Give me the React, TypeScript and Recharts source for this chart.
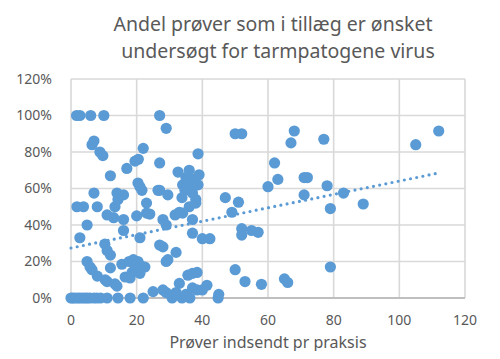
import React from "react"
import { CartesianGrid, ReferenceLine, Scatter, ScatterChart, XAxis, YAxis } from "recharts"

// Prøver indsendt pr praksis (x) og andel i % (y)
const PRAKSIS_X = [
  0, 0.5, 1.2, 2, 2.7, 3.5, 4.3, 5, 5.8, 7, 7.9, 9, 11, 14.3, 18, 22, 30.8, 33.8, 36.2, 44.8,
  25, 28, 29, 32, 35, 37, 38.4, 40, 41.4, 45, 33, 14, 11,
  4.9, 5.8, 6.4, 8, 10.4, 13.4, 12, 15.5, 17.7, 18.6, 16.5, 19, 20.4, 22.5, 21, 18, 19.5, 21, 35.6, 37, 38.4, 50, 53, 58, 65, 66, 79,
  2.7, 4.9, 10.3, 11, 12, 16, 21, 27, 28, 32, 29.5, 29, 37, 40, 42.3, 29, 52, 52, 57, 55,
  1.8, 3.8, 8, 7, 11, 13.4, 14.3, 14, 16, 13, 16, 20, 23, 23, 24, 28, 31.7, 33, 34, 37, 29.5, 26.5, 21.6, 33.8, 34.7, 37, 38, 47, 51, 49, 71, 79, 89, 83,
  35, 37, 36, 34, 38, 36,
  20.4, 21, 27, 12, 17, 19.5, 20.5, 27, 32.6, 36, 39, 35.6, 38.7, 36, 38.7, 9.7, 8.8, 60, 63, 62, 71, 72, 78,
  22, 6.4, 7, 29, 1.7, 2.7, 6, 10, 27, 50, 52, 67, 68, 77, 105, 112,
]
const ANDEL_Y = [
  0, 0, 0, 0, 0, 0, 0, 0, 0, 0, 0, 0, 0, 0, 0, 0, 0, 0, 0, 0,
  3.5, 4.4, 3, 3, 2, 5.5, 4.4, 4.4, 7, 2, 8, 6.5, 9,
  20, 17, 15.5, 12, 10, 7.7, 16.5, 18.5, 20, 14, 11.5, 21, 20, 17, 13.5, 11, 16, 18, 12.5, 13.5, 14, 15.5, 9, 7.5, 10.5, 8.5, 17,
  33, 40, 29.5, 26, 23.5, 37, 33, 29, 28, 25, 21, 20, 35.5, 32.5, 32.5, 40, 38, 34.5, 36, 37,
  50, 50, 50, 57.5, 45.5, 50, 54, 57.5, 56.5, 44, 43, 45, 52, 46.5, 46, 43, 45.5, 47, 46.5, 43, 56.5, 59, 59, 55, 59, 57.5, 54, 55, 52.5, 47, 56.5, 49, 51.5, 57.5,
  66, 65, 60, 62, 52, 50,
  63, 61, 59, 67, 71, 75, 76, 74, 69, 70, 67.5, 64.6, 62, 62, 79, 78, 80, 61, 65, 74, 66, 66, 61.5,
  82, 84, 86, 93, 100, 100, 100, 100, 100, 90, 90, 85, 91.5, 87, 84, 91.5,
]
// lineær tendenslinje (endepunkter aflæst)
const TREND_X = [0, 112]
const TREND_Y = [27.4, 68.5]
const X_TICKS = [0, 20, 40, 60, 80, 100, 120]
const Y_TICKS = [0, 20, 40, 60, 80, 100, 120]

const BLUE = "#5B9BD5"
const TEXT = "#595959"
const FONT = "'Noto Sans', sans-serif"

const points = PRAKSIS_X.map((x, i) => ({ x, y: ANDEL_Y[i] }))

const Dot = (props: any) => <circle cx={props.cx} cy={props.cy} r={5.6} fill={BLUE} />

export default function App() {
  return (
    <div style={{ position: "relative", width: 500, height: 359, margin: -8, background: "#fff", fontFamily: FONT }}>
      <div
        style={{
          position: "absolute",
          left: 4,
          top: 5,
          width: 489,
          height: 350,
          border: "1.5px solid #D9D9D9",
          boxSizing: "border-box",
        }}
      />
      <ScatterChart width={500} height={359} margin={{ top: 79, right: 35, bottom: 31, left: 0 }}>
        <CartesianGrid stroke="#D9D9D9" strokeWidth={1.6} />
        <XAxis
          type="number"
          dataKey="x"
          domain={[0, 120]}
          ticks={X_TICKS}
          height={30}
          tickLine={false}
          tickSize={0}
          tickMargin={17}
          axisLine={{ stroke: "#BFBFBF", strokeWidth: 2 }}
          tick={{ fill: TEXT, fontSize: 14, fontFamily: FONT }}
        />
        <YAxis
          type="number"
          dataKey="y"
          domain={[0, 120]}
          ticks={Y_TICKS}
          width={71}
          tickLine={false}
          tickSize={0}
          tickMargin={19}
          axisLine={false}
          tickFormatter={(v) => `${v}%`}
          tick={{ fill: TEXT, fontSize: 14, fontFamily: FONT }}
        />
        <Scatter data={points} shape={Dot} isAnimationActive={false} />
        <ReferenceLine
          segment={[
            { x: TREND_X[0], y: TREND_Y[0] },
            { x: TREND_X[1], y: TREND_Y[1] },
          ]}
          stroke={BLUE}
          strokeWidth={3.2}
          strokeDasharray="0 6.3"
          strokeLinecap="round"
        />
      </ScatterChart>
      <svg width={500} height={359} style={{ position: "absolute", left: 0, top: 0, pointerEvents: "none" }}>
        <text x={273} y={31} textAnchor="middle" fill={TEXT} fontSize={19.5} fontFamily={FONT}>
          Andel prøver som i tillæg er ønsket
        </text>
        <text x={278} y={57.5} textAnchor="middle" fill={TEXT} fontSize={19.5} fontFamily={FONT}>
          undersøgt for tarmpatogene virus
        </text>
        <text x={268} y={347.5} textAnchor="middle" fill={TEXT} fontSize={16} fontFamily={FONT}>
          Prøver indsendt pr praksis
        </text>
      </svg>
    </div>
  )
}
